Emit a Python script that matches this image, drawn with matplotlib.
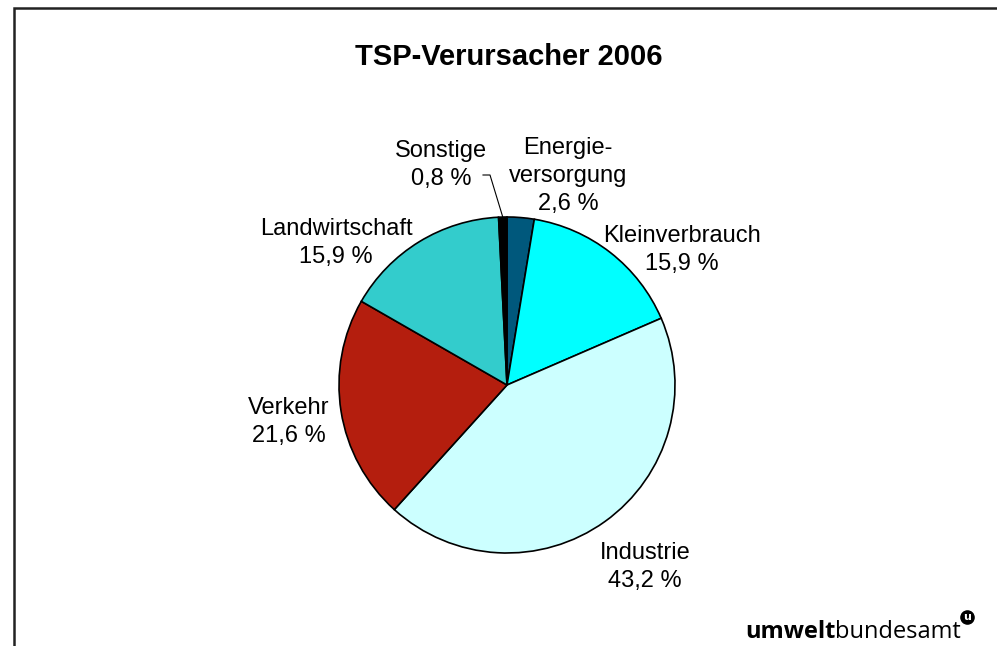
import numpy as np
import matplotlib
matplotlib.use("Agg")
import matplotlib.pyplot as plt

categories = ["Energie-\nversorgung", "Kleinverbrauch", "Industrie", "Verkehr", "Landwirtschaft", "Sonstige"]
values = [2.6, 15.9, 43.2, 21.6, 15.9, 0.8]
colors = ["#00587C", "#00FFFF", "#CCFFFF", "#B41E0E", "#33CCCC", "#000000"]
title = "TSP-Verursacher 2006"

# label placement (pixel coords, y down)
label_pos = [(568, 176), (682, 250), (645, 567), (289, 422), (336, 243), (441, 165)]

W, H = 997, 646
fig = plt.figure(figsize=(W / 100, H / 100), dpi=100)
ax = fig.add_axes([0, 0, 1, 1])

cx, cy, r = 507, H - 385, 168
wedges, _ = ax.pie(values, colors=colors, startangle=90, counterclock=False,
                   radius=r, center=(cx, cy), frame=True,
                   wedgeprops=dict(edgecolor="black", linewidth=1.2))
ax.set_xlim(0, W)
ax.set_ylim(0, H)
ax.set_aspect("equal")
ax.axis("off")

font = "Liberation Sans"
for cat, v, (lx, ly) in zip(categories, values, label_pos):
    txt = f"{cat}\n{v:.1f} %".replace(".", ",")
    ax.text(lx, H - ly, txt, ha="center", va="center", fontsize=17,
            family=font, linespacing=1.38)

# leader line for Sonstige
w = wedges[-1]
mid = np.deg2rad((w.theta1 + w.theta2) / 2)
px, py = cx + r * np.cos(mid), cy + r * np.sin(mid)
ax.plot([483, 490, px], [H - 175, H - 175, py], color="black", lw=0.8)

ax.text(509, H - 57, title, ha="center", va="center", fontsize=21,
        fontweight="bold", family=font)

# frame lines
ax.plot([14, 14, W], [0, H - 8, H - 8], color="#222222", lw=1.8, solid_joinstyle="miter")

# logo
t1 = ax.text(745, H - 638, "umwelt", ha="left", va="baseline", fontsize=17,
             fontweight="bold", family="Open Sans")
fig.canvas.draw()
bb = t1.get_window_extent()
t2 = ax.text(bb.x1, H - 638, "bundesamt", ha="left", va="baseline", fontsize=17,
             family="Open Sans")
fig.canvas.draw()
bb2 = t2.get_window_extent()
ax.scatter([bb2.x1 + 6], [H - 617], s=90, color="black", zorder=5)
ax.text(bb2.x1 + 6, H - 617, "u", ha="center", va="center", fontsize=8,
        color="white", fontweight="bold", family="DejaVu Sans", zorder=6)

fig.savefig("out.png", dpi=100)
